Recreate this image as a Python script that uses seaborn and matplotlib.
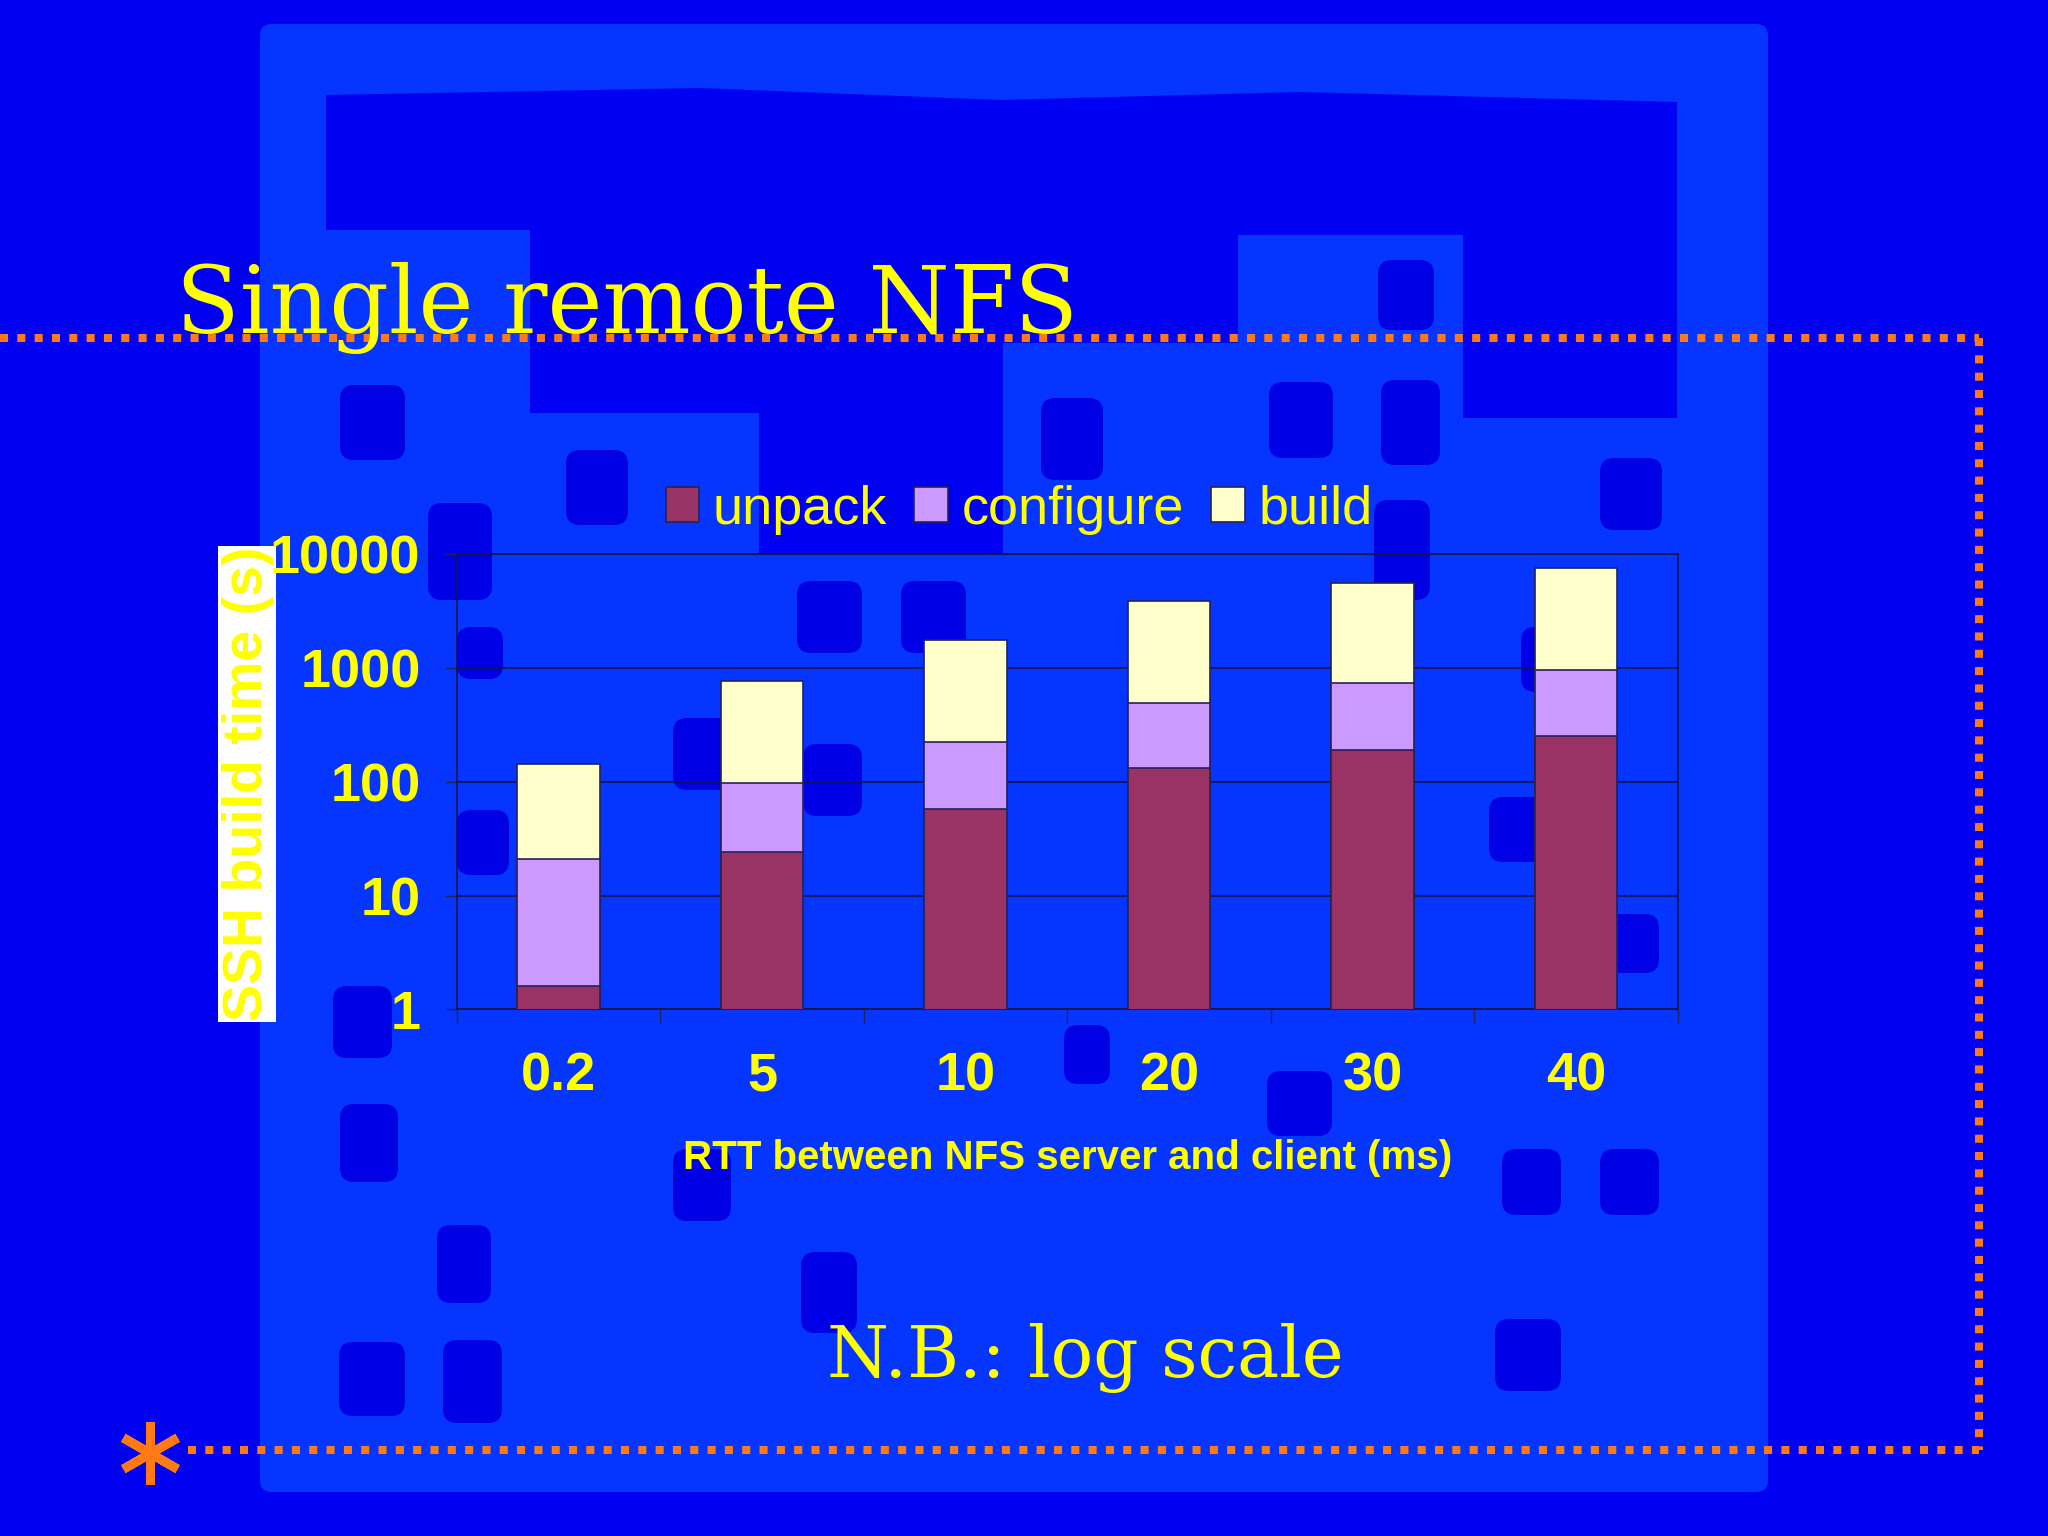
import matplotlib
matplotlib.use("Agg")
import matplotlib.pyplot as plt
from matplotlib.patches import Rectangle, Polygon, FancyBboxPatch, Patch
import numpy as np
import pandas as pd
import seaborn as sns

# ---------------- data ----------------
rtt_labels = ["0.2", "5", "10", "20", "30", "40"]
unpack = [1.6, 24, 58, 132, 190, 254]
configure = [19.5, 74, 168, 358, 549, 714]
build = [122, 670, 1530, 3410, 4930, 6700]
series_names = ["unpack", "configure", "build"]
ytick_values = [1, 10, 100, 1000, 10000]
ytick_labels = ["1", "10", "100", "1000", "10000"]

# ---------------- style ----------------
sns.set_theme(style="white")
plt.rcParams["font.family"] = ["Liberation Sans", "DejaVu Sans"]

YELLOW = "#FFFF00"
ORANGE = "#FF7A14"
DARK_BLUE = "#0000F2"
LIGHT_BLUE = "#0535FF"
BLOB_BLUE = "#0000E6"
C_UNPACK = "#993366"
C_CONFIG = "#CC99FF"
C_BUILD = "#FFFFCC"
EDGE = "#23235a"

fig = plt.figure(figsize=(20.48, 15.36), dpi=100)
fig.patch.set_facecolor(DARK_BLUE)

# ---------------- background decoration (pixel coordinates) ----------------
bg = fig.add_axes([0, 0, 1, 1], zorder=0)
bg.set_xlim(0, 2048)
bg.set_ylim(1536, 0)
bg.axis("off")

bg.add_patch(FancyBboxPatch((260, 24), 1508, 1468,
                            boxstyle="round,pad=0,rounding_size=12",
                            fc=LIGHT_BLUE, ec="none"))
top_block = [(326, 95), (700, 88), (1000, 100), (1300, 92), (1677, 102),
             (1677, 418), (1463, 418), (1463, 235), (1238, 235), (1238, 343),
             (1003, 343), (1003, 555), (759, 555), (759, 413), (530, 413),
             (530, 230), (326, 230)]
bg.add_patch(Polygon(top_block, closed=True, fc=DARK_BLUE, ec="none"))

blobs = [(340, 405, 385, 460), (566, 628, 450, 525), (428, 492, 503, 600),
         (797, 862, 581, 653), (901, 966, 581, 653), (803, 862, 744, 816),
         (673, 731, 718, 790), (457, 503, 627, 679), (1041, 1103, 398, 480),
         (1269, 1333, 382, 458), (1381, 1440, 380, 465), (1600, 1662, 458, 530),
         (1378, 1434, 260, 330), (1521, 1574, 627, 692), (1489, 1548, 797, 862),
         (457, 509, 810, 875), (333, 392, 986, 1058), (340, 398, 1104, 1182),
         (437, 491, 1225, 1303), (339, 405, 1342, 1416), (443, 502, 1340, 1423),
         (673, 731, 1149, 1221), (801, 857, 1252, 1333), (1064, 1110, 1025, 1084),
         (1267, 1332, 1071, 1136), (1502, 1561, 1149, 1215), (1600, 1659, 1149, 1215),
         (1495, 1561, 1319, 1391), (1606, 1659, 914, 973), (1374, 1430, 500, 600)]
for x0, x1, y0, y1 in blobs:
    bg.add_patch(FancyBboxPatch((x0, y0), x1 - x0, y1 - y0,
                                boxstyle="round,pad=0,rounding_size=14",
                                fc=BLOB_BLUE, ec="none"))

# dotted orange frame
dots = dict(color=ORANGE, lw=5.8, linestyle=(0, (1, 1.15)),
            dash_capstyle="butt", solid_capstyle="butt", zorder=3)
bg.plot([0, 1979], [338, 338], **dots)
bg.plot([1979, 1979], [338, 1450], **dots)
bg.plot([188, 1979], [1450, 1450], **dots)
bg.plot([150], [1453], marker=(6, 2, 0), markersize=45, mew=6.5,
        color=ORANGE, zorder=3)

# title and note
bg.text(176, 333, "Single remote NFS", fontsize=67, family=["DejaVu Serif"],
        color=YELLOW, ha="left", va="baseline", zorder=5)
bg.text(827, 1377, "N.B.: log scale", fontsize=51, family=["DejaVu Serif"],
        color=YELLOW, ha="left", va="baseline", zorder=5)

# y label on white box
bg.add_patch(Rectangle((218, 546), 58, 476, fc="white", ec="none", zorder=4))
bg.text(248, 784, "SSH build time (s)", rotation=90, fontsize=40,
        fontweight="bold", color=YELLOW, ha="center", va="center", zorder=5)

# ---------------- chart ----------------
ax = fig.add_axes([0.2230, 0.3428, 0.5963, 0.2962], zorder=2)
ax.patch.set_alpha(0)

cum_cfg = [u + c for u, c in zip(unpack, configure)]
cum_total = [u + c + b for u, c, b in zip(unpack, configure, build)]
df = pd.DataFrame({"rtt": rtt_labels, "unpack": unpack,
                   "cfg_top": cum_cfg, "total": cum_total})

for col, colr in [("total", C_BUILD), ("cfg_top", C_CONFIG), ("unpack", C_UNPACK)]:
    sns.barplot(data=df, x="rtt", y=col, order=rtt_labels, color=colr,
                saturation=1, width=0.406, edgecolor=EDGE, linewidth=1.2,
                errorbar=None, log_scale=(False, True), ax=ax, zorder=3)

ax.set_yscale("log")
ax.set_ylim(1, 10000)
ax.set_xlim(-0.5, 5.5)
ax.set_yticks(ytick_values)
ax.set_yticklabels(ytick_labels)
ax.yaxis.set_minor_locator(matplotlib.ticker.NullLocator())
ax.set_xticks(range(len(rtt_labels)))
ax.set_xticklabels(rtt_labels)
ax.set_xticks(np.arange(-0.5, 6.0, 1.0), minor=True)

for lab in ax.get_yticklabels() + ax.get_xticklabels():
    lab.set_fontweight("bold")
    lab.set_color(YELLOW)
ax.tick_params(axis="y", which="major", labelsize=39, length=9, width=1,
               color=EDGE, pad=17, left=True, direction="out")
ax.tick_params(axis="x", which="major", labelsize=39, length=0, pad=30)
ax.tick_params(axis="x", which="minor", length=10, width=1, color=EDGE,
               bottom=True, direction="out")

ax.grid(axis="y", which="major", color="#15154a", lw=1.2, zorder=0)
ax.set_axisbelow(True)
for sp in ax.spines.values():
    sp.set_visible(True)
    sp.set_color("#15154a")
    sp.set_linewidth(1.2)

ax.set_ylabel("")
ax.set_xlabel("RTT between NFS server and client (ms)", fontsize=29,
              fontweight="bold", color=YELLOW, labelpad=27)

handles = [Patch(facecolor=c, edgecolor=EDGE, linewidth=1.2)
           for c in (C_UNPACK, C_CONFIG, C_BUILD)]
fig.legend(handles, series_names, loc="center", bbox_to_anchor=(0.4976, 0.668),
           ncol=3, frameon=False, fontsize=39, labelcolor=YELLOW,
           handlelength=0.62, handleheight=0.62, handletextpad=0.25,
           columnspacing=0.5, borderpad=0)

fig.savefig("out.png", dpi=100, facecolor=fig.get_facecolor())
